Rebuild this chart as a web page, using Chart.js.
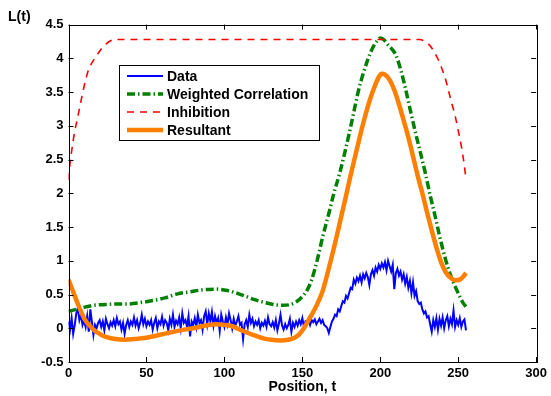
<!DOCTYPE html>
<html>
<head>
<meta charset="utf-8">
<script src="https://cdn.jsdelivr.net/npm/chart.js@4/dist/chart.umd.min.js"></script>
<style>
  body { margin: 0; background: #fff; }
  canvas { display: block; }
</style>
</head>
<body>
<canvas id="chart" width="551" height="396"></canvas>
<script>
// Data series, one value per position t = 0..255
const dataValues = [
  0.10, -0.02, 0.15, -0.08, 0.05, 0.22, 0.30, 0.12, 0.20, 0.05,
  0.12, 0.02, 0.18, -0.05, 0.28, 0.10, -0.10, 0.05, 0.00, 0.08,
  0.12, 0.02, 0.10, -0.03, 0.14, 0.06, 0.00, 0.09, 0.04, 0.12,
  0.03, 0.15, 0.06, 0.10, -0.02, 0.08, -0.08, 0.05, 0.12, 0.02,
  0.10, 0.05, 0.16, 0.04, 0.12, 0.00, 0.08, 0.20, 0.06, 0.14,
  0.03, 0.10, 0.05, 0.12, -0.02, 0.08, 0.15, 0.00, 0.10, 0.06,
  0.17, 0.04, 0.12, 0.08, -0.03, 0.14, 0.05, 0.20, 0.02, 0.11,
  0.06, 0.16, 0.00, 0.22, 0.08, 0.12, 0.03, 0.18, -0.12, 0.10,
  0.05, 0.15, 0.02, 0.20, 0.08, 0.12, -0.02, 0.18, 0.25, 0.06,
  0.22, 0.10, 0.24, 0.04, 0.18, 0.08, 0.15, -0.04, 0.20, 0.10,
  0.02, 0.16, 0.06, 0.22, 0.12, 0.00, 0.14, 0.04, 0.10, 0.18,
  0.05, 0.08, -0.16, 0.06, 0.12, 0.02, 0.20, 0.08, 0.14, 0.03,
  0.10, 0.05, 0.12, 0.00, 0.08, 0.04, 0.11, 0.02, 0.16, 0.06,
  0.03, 0.09, 0.01, 0.12, -0.03, 0.07, 0.20, 0.04, -0.02, 0.06,
  0.00, 0.05, 0.14, -0.05, 0.08, 0.02, 0.10, 0.04, 0.12, 0.06,
  0.15, 0.03, 0.10, 0.08, 0.14, 0.05, 0.12, 0.09, 0.13, 0.06,
  0.10, 0.14, 0.08, 0.12, 0.05, 0.03, 0.00, -0.07, 0.02, 0.10,
  0.14, 0.20, 0.18, 0.28, 0.25, 0.33, 0.40, 0.38, 0.48, 0.44,
  0.52, 0.60, 0.58, 0.72, 0.66, 0.75, 0.70, 0.78, 0.68, 0.80,
  0.74, 0.82, 0.76, 0.64, 0.80, 0.86, 0.78, 0.90, 0.84, 0.94,
  0.88, 0.96, 0.90, 0.98, 0.86, 1.00, 0.92, 0.84, 0.94, 0.58,
  0.82, 0.88, 0.78, 0.84, 0.72, 0.80, 0.66, 0.76, 0.60, 0.70,
  0.52, 0.68, 0.48, 0.55, 0.40, 0.36, 0.38, 0.28, 0.22, 0.25,
  0.16, 0.18, 0.06, -0.05, 0.12, 0.02, 0.15, -0.02, 0.14, 0.04,
  0.16, 0.00, 0.12, 0.18, 0.03, 0.14, 0.06, 0.26, 0.02, 0.12,
  0.05, 0.15, 0.02, 0.10, 0.13, -0.03
];

// Weighted correlation (smooth), sampled points
const corrX = [0, 5, 10, 16, 22, 30, 38, 46, 54, 62, 70, 78, 86, 95, 102, 108, 114, 120, 126, 132, 137, 142, 146, 150,
  153, 156, 160, 163, 167, 170, 174, 177, 180, 183, 186, 189, 192, 195, 198, 200, 202, 205, 210, 213, 216, 219,
  223, 226, 229, 232, 235, 238, 242, 245, 248, 251, 253, 255];
const corrY = [0.25, 0.28, 0.31, 0.34, 0.35, 0.36, 0.36, 0.38, 0.41, 0.45, 0.51, 0.54, 0.57, 0.58, 0.56, 0.52, 0.47, 0.42, 0.38, 0.35, 0.34, 0.35, 0.39, 0.47,
  0.56, 0.72, 1.05, 1.35, 1.70, 1.98, 2.30, 2.58, 2.88, 3.20, 3.52, 3.77, 3.98, 4.15, 4.26, 4.30, 4.28, 4.20, 4.05, 3.84, 3.57, 3.26,
  2.86, 2.58, 2.29, 1.97, 1.68, 1.37, 1.01, 0.79, 0.62, 0.47, 0.38, 0.32];

// Inhibition (dashed), sampled points
const inhibX = [0, 1, 2, 3, 4, 5, 7, 9, 11, 13, 16, 18, 21, 24, 27, 30, 225, 228, 231, 234, 237, 239, 242, 244, 246, 248, 250, 252, 253, 254, 255];
const inhibY = [2.20, 2.45, 2.62, 2.78, 2.92, 3.03, 3.25, 3.48, 3.68, 3.84, 3.97, 4.04, 4.14, 4.21, 4.26, 4.28, 4.28, 4.26, 4.21, 4.12, 3.99, 3.88, 3.68, 3.50, 3.32, 3.15, 2.93, 2.70, 2.56, 2.40, 2.20];

// Resultant (thick), sampled points
const resX = [0, 2, 4, 6, 8, 10, 12, 14, 16, 19, 22, 26, 30, 36, 42, 50, 58, 66, 74, 80, 88, 95, 100, 105, 110, 115, 120, 125, 130, 136, 141, 145,
  148, 151, 154, 157, 160, 163, 166, 169, 172, 175, 178, 181, 184, 187, 190, 193, 196, 199, 201, 203, 206, 209, 212, 215, 218,
  221, 224, 227, 230, 233, 236, 239, 242, 245, 248, 251, 253, 255];
const resY = [0.72, 0.60, 0.48, 0.36, 0.25, 0.15, 0.08, 0.03, -0.02, -0.07, -0.11, -0.14, -0.16, -0.17, -0.16, -0.14, -0.10, -0.06, -0.02, 0.00, 0.04, 0.06, 0.05, 0.03, -0.02, -0.07, -0.11, -0.15, -0.17, -0.18, -0.17, -0.14,
  -0.09, 0.00, 0.12, 0.24, 0.38, 0.55, 0.80, 1.07, 1.36, 1.66, 1.96, 2.27, 2.56, 2.85, 3.12, 3.36, 3.56, 3.72, 3.77, 3.76, 3.68, 3.53, 3.32, 3.08, 2.83,
  2.55, 2.26, 2.00, 1.72, 1.45, 1.20, 0.98, 0.83, 0.75, 0.71, 0.72, 0.76, 0.82];

const xTickMin = 0, xTickMax = 300, xTickStep = 50;
const yTickMin = -0.5, yTickMax = 4.5, yTickStep = 0.5;

function toPoints(xs, ys) {
  return xs.map(function(x, i) { return { x: x, y: ys[i] }; });
}

const FONT = "'Liberation Sans', Arial, Helvetica, sans-serif";

// Frame, inward ticks, axis labels and the legend box
const decorPlugin = {
  id: 'decor',
  afterDatasetsDraw: function(chart) {
    const ctx = chart.ctx;
    const a = chart.chartArea;
    const xs = chart.scales.x, ys = chart.scales.y;
    ctx.save();
    ctx.strokeStyle = '#000';
    ctx.lineWidth = 1;
    ctx.beginPath();
    for (let v = xTickMin; v <= xTickMax; v += xTickStep) {
      const px = Math.round(xs.getPixelForValue(v)) + 0.5;
      ctx.moveTo(px, a.bottom); ctx.lineTo(px, a.bottom - 5);
      ctx.moveTo(px, a.top); ctx.lineTo(px, a.top + 5);
    }
    for (let v = yTickMin; v <= yTickMax + 1e-9; v += yTickStep) {
      const py = Math.round(ys.getPixelForValue(v)) + 0.5;
      ctx.moveTo(a.left, py); ctx.lineTo(a.left + 5, py);
      ctx.moveTo(a.right, py); ctx.lineTo(a.right - 5, py);
    }
    ctx.stroke();
    ctx.strokeRect(Math.round(a.left) + 0.5, Math.round(a.top) + 0.5,
      Math.round(a.right - a.left), Math.round(a.bottom - a.top));

    // axis labels
    ctx.fillStyle = '#000';
    ctx.font = 'bold 14px ' + FONT;
    ctx.textBaseline = 'alphabetic';
    ctx.textAlign = 'left';
    ctx.fillText('L(t)', 8, 21);
    ctx.textAlign = 'center';
    ctx.fillText('Position, t', (a.left + a.right) / 2, 391);

    // legend
    const lx = 119.5, ly = 65.5, lw = 200, lh = 75;
    ctx.fillStyle = '#fff';
    ctx.fillRect(lx, ly, lw, lh);
    ctx.strokeStyle = '#000';
    ctx.lineWidth = 1;
    ctx.strokeRect(lx, ly, lw, lh);
    ctx.font = 'bold 14px ' + FONT;
    ctx.textAlign = 'left';
    ctx.textBaseline = 'middle';
    const rows = [76, 94, 112, 130];
    chart.data.datasets.forEach(function(ds, i) {
      const y = rows[i];
      ctx.save();
      ctx.strokeStyle = ds.borderColor;
      ctx.lineWidth = ds.borderWidth;
      ctx.setLineDash(ds.borderDash || []);
      ctx.beginPath();
      ctx.moveTo(127, y); ctx.lineTo(163, y);
      ctx.stroke();
      ctx.restore();
      ctx.fillStyle = '#000';
      ctx.fillText(ds.label, 167, y + 1);
    });
    ctx.restore();
  }
};

const ctx = document.getElementById('chart').getContext('2d');
new Chart(ctx, {
  type: 'line',
  data: {
    datasets: [
      {
        label: 'Data',
        data: toPoints(dataValues.map(function(_, i) { return i; }), dataValues),
        borderColor: '#0000ff',
        borderWidth: 2,
        pointRadius: 0,
        tension: 0,
        order: 4
      },
      {
        label: 'Weighted Correlation',
        data: toPoints(corrX, corrY),
        borderColor: '#008000',
        borderWidth: 3.5,
        borderDash: [8, 3, 1.5, 3],
        pointRadius: 0,
        cubicInterpolationMode: 'monotone',
        order: 3
      },
      {
        label: 'Inhibition',
        data: toPoints(inhibX, inhibY),
        borderColor: '#ff0000',
        borderWidth: 1.6,
        borderDash: [7, 6],
        pointRadius: 0,
        cubicInterpolationMode: 'monotone',
        order: 2
      },
      {
        label: 'Resultant',
        data: toPoints(resX, resY),
        borderColor: '#ff8000',
        borderWidth: 4.5,
        pointRadius: 0,
        cubicInterpolationMode: 'monotone',
        order: 1
      }
    ]
  },
  options: {
    responsive: false,
    animation: false,
    layout: { padding: { left: 0, top: 24.6, right: 13.3, bottom: 0 } },
    plugins: {
      legend: { display: false },
      tooltip: { enabled: false }
    },
    scales: {
      x: {
        type: 'linear',
        min: xTickMin,
        max: xTickMax,
        grid: { display: false, drawTicks: false },
        border: { display: false },
        ticks: {
          stepSize: xTickStep,
          padding: 4,
          color: '#000',
          font: { family: FONT, size: 13, weight: 'bold' },
          maxRotation: 0
        },
        afterFit: function(scale) { scale.height = 34; }
      },
      y: {
        type: 'linear',
        min: yTickMin,
        max: yTickMax,
        grid: { display: false, drawTicks: false },
        border: { display: false },
        ticks: {
          stepSize: yTickStep,
          padding: 5,
          color: '#000',
          font: { family: FONT, size: 13, weight: 'bold' },
          callback: function(v) { return String(v); }
        },
        afterFit: function(scale) { scale.width = 68.5; }
      }
    }
  },
  plugins: [decorPlugin]
});
</script>
</body>
</html>
